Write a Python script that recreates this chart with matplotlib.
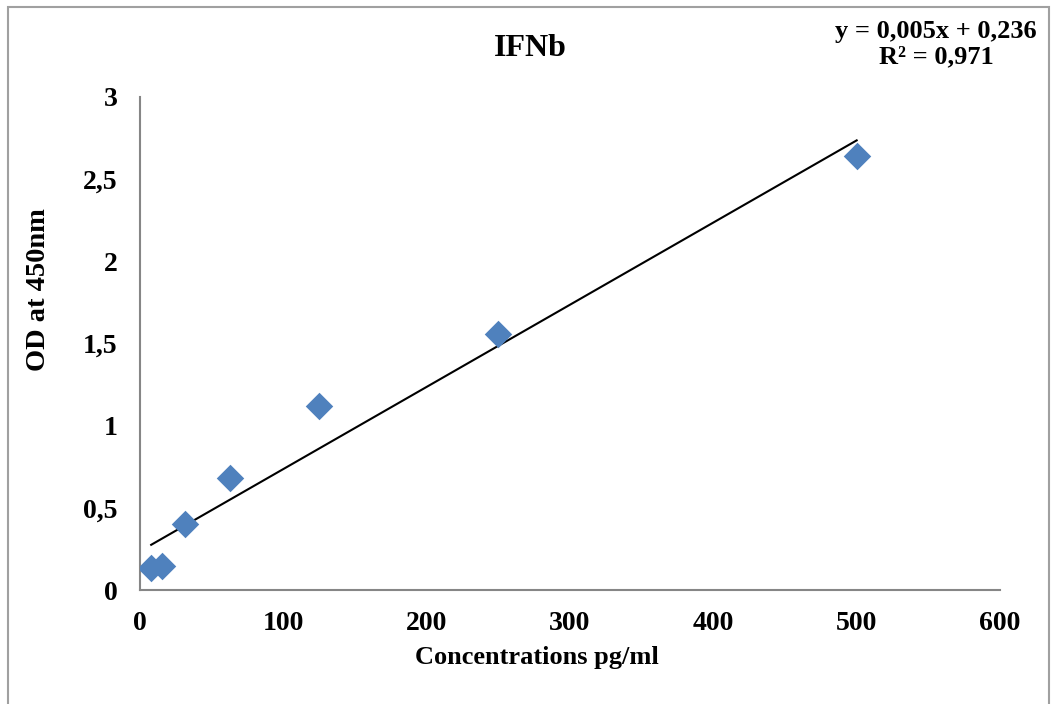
import matplotlib
matplotlib.use("Agg")
import matplotlib.pyplot as plt
from matplotlib.patches import Rectangle
from matplotlib.ticker import FuncFormatter
import numpy as np

# standard curve data
conc = [7.8, 15.6, 31.25, 62.5, 125, 250, 500]
od = [0.134, 0.146, 0.40, 0.68, 1.12, 1.555, 2.64]
slope = 0.005
intercept = 0.236
eq_text = "y = 0,005x + 0,236\nR² = 0,971"

plt.rcParams['font.family'] = ['Liberation Serif', 'DejaVu Serif']
plt.rcParams['font.weight'] = 'bold'

fig = plt.figure(figsize=(10.51, 7.04), dpi=100)
ax = fig.add_axes([140/1051, 114/704, 860/1051, 493/704])

ax.scatter(conc, od, marker='D', s=14**2, color='#4F81BD', zorder=3, linewidths=0)
xfit = np.array([min(conc), max(conc)])
ax.plot(xfit, slope*xfit + intercept, color='black', lw=1.5, zorder=2)

ax.set_xlim(0, 600)
ax.set_ylim(0, 3)
ax.set_xticks(range(0, 601, 100))
ax.set_yticks([0, 0.5, 1, 1.5, 2, 2.5, 3])
ax.yaxis.set_major_formatter(FuncFormatter(lambda v, p: ('%g' % v).replace('.', ',')))
ax.tick_params(length=0, labelsize=20, pad=15)
ax.tick_params(axis='y', pad=16)
for lab in ax.get_xticklabels() + ax.get_yticklabels():
    lab.set_fontweight('bold')

for s in ['top', 'right']:
    ax.spines[s].set_visible(False)
for s in ['left', 'bottom']:
    ax.spines[s].set_color('#868686')
    ax.spines[s].set_linewidth(1.5)

ax.set_xlabel("Concentrations pg/ml", fontsize=19, fontweight='bold')
ax.xaxis.set_label_coords(0.462, -0.113)
ax.set_ylabel("OD at 450nm", fontsize=20.5, fontweight='bold')
ax.yaxis.set_label_coords(-0.103, 0.61)
fig.text(530/1051, 1 - 48/704, "IFNb", ha='center', va='center', fontsize=23, fontweight='bold')
fig.text(936/1051, 1 - 44/704, eq_text, ha='center', va='center', fontsize=19,
         fontweight='bold', linespacing=1.15)

fig.patches.append(Rectangle((8/1051, -0.05), 1041/1051, 1.05 - 7/704, transform=fig.transFigure,
                             fill=False, edgecolor='#A0A0A0', lw=1.5))

fig.savefig("out.png", dpi=100)
